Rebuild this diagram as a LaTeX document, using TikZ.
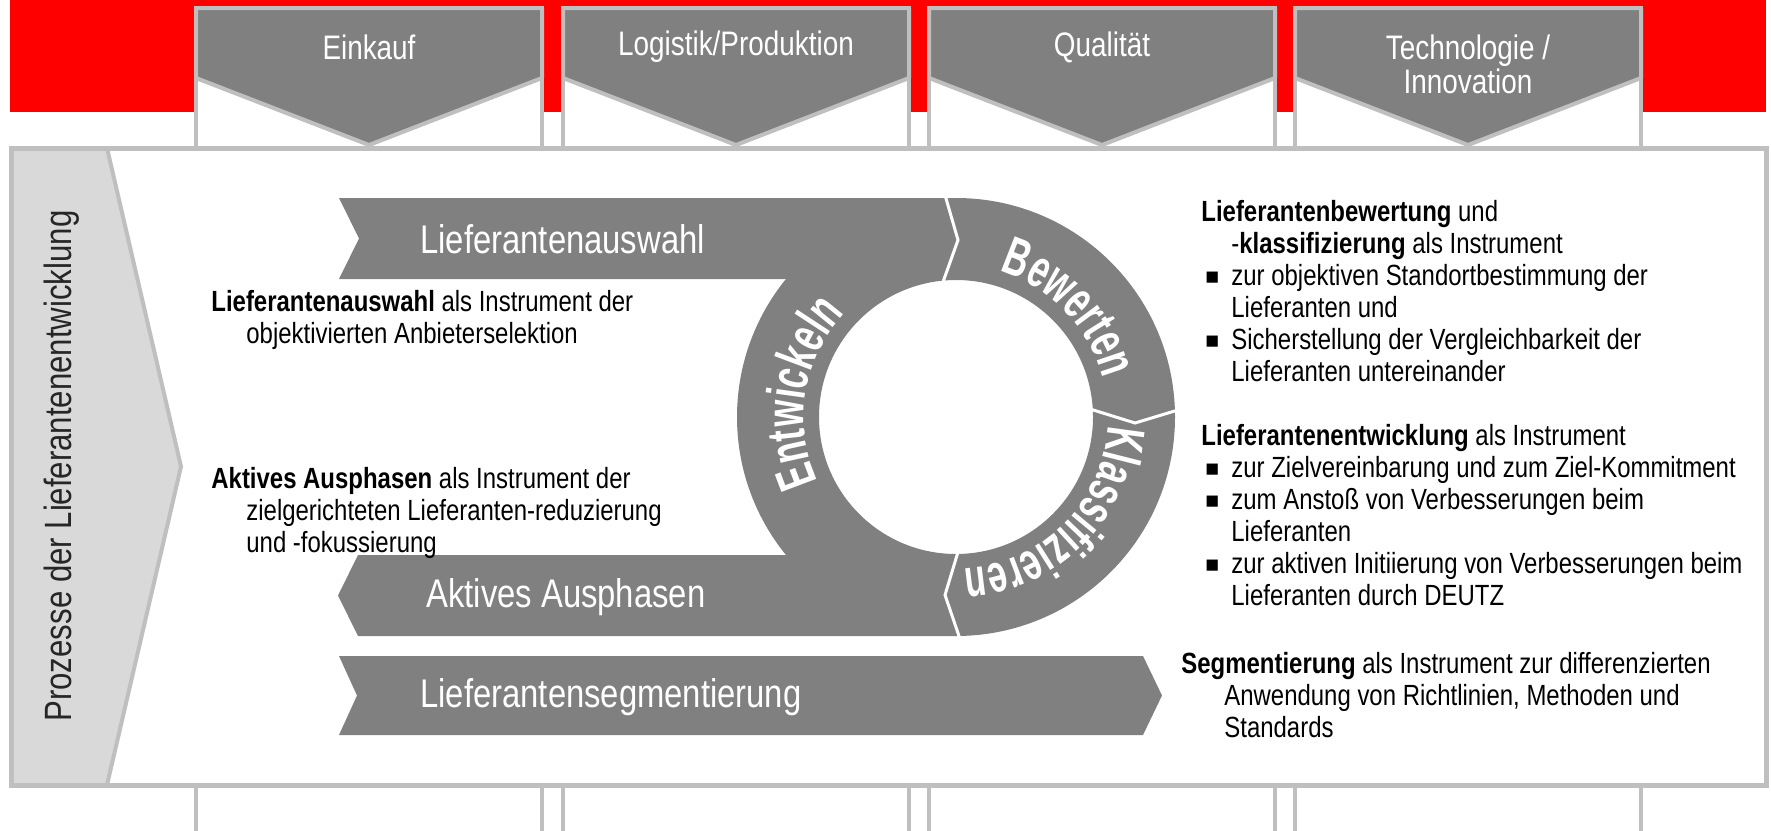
\documentclass[tikz,border=0pt]{standalone}
\usepackage{fontspec}
\setmainfont{Liberation Sans}[FakeStretch=0.82]
\newfontfamily\ringfont{Liberation Sans}[FakeStretch=0.64]
\newfontfamily\bulletfont{Liberation Sans}
\usepackage{tikz}
\usetikzlibrary{positioning,decorations.text}
\definecolor{dgray}{HTML}{808080}
\definecolor{lgray}{HTML}{BFBFBF}
\definecolor{pgray}{HTML}{D9D9D9}
\definecolor{dred}{HTML}{FF0000}
\tikzstyle{colbox}=[draw=lgray,line width=2pt,fill=white]
\tikzstyle{pent}=[draw=lgray,line width=2pt,fill=dgray,line join=round]
\tikzstyle{collabel}=[text=white,font=\fontsize{17pt}{17pt}\selectfont,align=center,inner sep=0pt]
\tikzstyle{band}=[fill=dgray]
\tikzstyle{bandlabel}=[text=white,font=\fontsize{20pt}{22pt}\selectfont,anchor=west,inner sep=0pt]
\tikzstyle{sep}=[draw=white,line width=1.5pt,line join=miter]
\tikzstyle{desc}=[font=\fontsize{14.6pt}{16pt}\selectfont,align=left,anchor=north west,inner sep=0pt]
\tikzstyle{ringtext}=[decorate,decoration={text along path,text align=center,text color=white}]
\newcommand{\ringfmt}{\ringfont\bfseries\fontsize{27pt}{27pt}\selectfont}
\newcommand{\bsq}{\makebox[15pt][l]{\hspace{2pt}\raisebox{0.5pt}{\bulletfont\fontsize{11.5pt}{11.5pt}\selectfont ■}}}

\begin{document}
\begin{tikzpicture}[x=0.5pt,y=0.5pt]
        \useasboundingbox (0,0) rectangle (1771,-830);
        \fill[dred] (10,0) rectangle (1766,-112);
        \foreach \x/\ly/\lbl [count=\i] in {196/47/{Einkauf},563/47/{Logistik/Produktion},929/47/{Qualität},1295/64/{Technologie /\\Innovation}}{
            \draw[colbox] (\x,-850) -- (\x,-8) -- ++(346,0) -- ++(0,-842);
            \draw[pent] (\x,-8) -- ++(346,0) -- ++(0,-70) -- ++(-173,-67) -- ++(-173,67) -- cycle;
            \node (col\i) [collabel] at (\x+173,-\ly) {\lbl};
        }

        \fill[white] (11,-148) rectangle (1766,-785);
        \draw[lgray,line width=2pt,fill=pgray] (11,-148) -- (107,-148) -- (181,-466.5) -- (107,-785) -- (11,-785) -- cycle;
        \draw[lgray,line width=2.5pt] (11,-148) rectangle (1766,-785);
        \node (prozess) [rotate=90,font=\fontsize{19pt}{21pt}\selectfont,text=black!85] at (62,-466) {Prozesse der Lieferantenentwicklung};

        % Kreislauf
        \fill[band] (339,-198) -- (956,-198) -- (956,-279) -- (339,-279) -- (359,-238.5) -- cycle;
        \fill[band] (358,-555) -- (956,-555) -- (956,-636) -- (358,-636) -- (338,-595.5) -- cycle;
        \fill[band,even odd rule] (956,-417) circle[radius=219] circle[radius=137];
        \fill[band] (339,-656) -- (1143,-656) -- (1162,-695.5) -- (1143,-735) -- (339,-735) -- (357,-695.5) -- cycle;
        \draw[sep] (945,-195) -- (958,-240) -- (943,-282);
        \draw[sep] (1178,-410) -- (1135,-423) -- (1090,-409);
        \draw[sep] (960,-639) -- (945,-595) -- (958,-552);

        \node (auswahl) [bandlabel] at (420,-239) {Lieferantenauswahl};
        \node (ausphasen) [bandlabel] at (426,-597) {Aktives Ausphasen};
        \node (segment) [bandlabel] at (420,-697) {Lieferantensegmentierung};

        \path[ringtext,decoration={text={|\ringfmt|Bewerten}}] (956,-417) ++(99:152) arc[start angle=99,end angle=-11,radius=152];
        \path[ringtext,decoration={text={|\ringfmt|Klassifizieren}}] (956,-417) ++(10:152) arc[start angle=10,end angle=-100,radius=152];
        \path[ringtext,decoration={text={|\ringfmt|Entwickeln}}] (956,-417) ++(226:152) arc[start angle=226,end angle=116,radius=152];

        \node (auswahltext) [desc] at (211,-290) {\textbf{Lieferantenauswahl} als Instrument der\\\hspace*{17.5pt}objektivierten Anbieterselektion};
        \node (ausphasentext) [desc] at (211,-467) {\textbf{Aktives Ausphasen} als Instrument der\\\hspace*{17.5pt}zielgerichteten Lieferanten-reduzierung\\\hspace*{17.5pt}und -fokussierung};
        \node (bewertungtext) [desc] at (1201,-200) {\textbf{Lieferantenbewertung} und\\\hspace*{15pt}-\textbf{klassifizierung} als Instrument\\\bsq zur objektiven Standortbestimmung der\\\hspace*{15pt}Lieferanten und\\\bsq Sicherstellung der Vergleichbarkeit der\\\hspace*{15pt}Lieferanten untereinander};
        \node (entwicklungtext) [desc] at (1201,-424) {\textbf{Lieferantenentwicklung} als Instrument\\\bsq zur Zielvereinbarung und zum Ziel-Kommitment\\\bsq zum Anstoß von Verbesserungen beim\\\hspace*{15pt}Lieferanten\\\bsq zur aktiven Initiierung von Verbesserungen beim\\\hspace*{15pt}Lieferanten durch DEUTZ};
        \node (segmenttext) [desc] at (1181,-652) {\textbf{Segmentierung} als Instrument zur differenzierten\\\hspace*{21.5pt}Anwendung von Richtlinien, Methoden und\\\hspace*{21.5pt}Standards};
    \end{tikzpicture}
\end{document}
